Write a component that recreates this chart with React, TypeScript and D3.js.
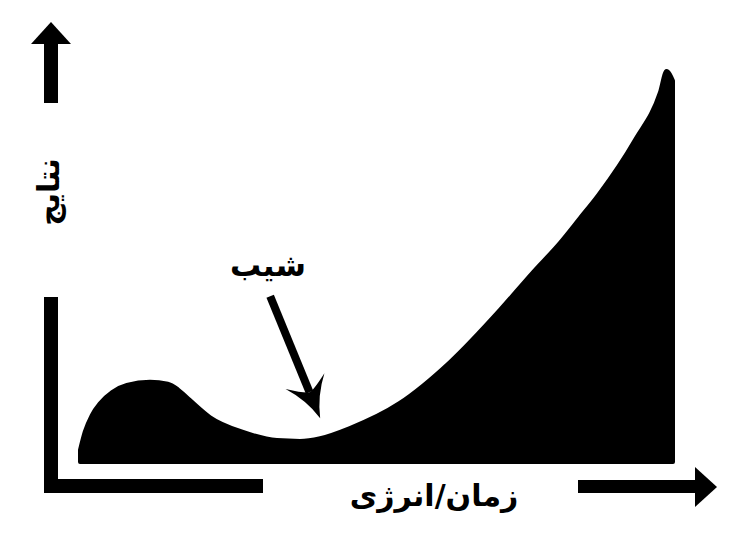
import React from 'react'
import * as d3 from 'd3'

// curve outline (x: time/energy, y: results), both 0..100
const curveX = [0, 0.8, 2.0, 3.4, 5.4, 7.9, 11.8, 14.8, 16.5, 18.5, 21.9, 27.5, 33.2, 37.1, 40.5, 45.5, 53.9, 62.4, 70.8, 76.4, 80.9, 84.3, 87.4, 93.6, 97.8, 98.9, 100]
const curveY = [3.1, 7.7, 12.0, 15.1, 17.9, 19.7, 20.5, 20.0, 18.6, 15.9, 11.5, 7.7, 5.6, 5.4, 6.1, 8.7, 15.1, 25.6, 38.9, 48.6, 56.0, 62.4, 68.3, 82.4, 94.5, 100, 97.5]

const xLabel = 'زمان/انرژی'
const yLabel = 'نتایج'
const slopeLabel = 'شیب'
// where the slope arrow points (data units)
const slopeAt = [40.5, 6.1]

const W = 740
const H = 540
const FONT = '"DejaVu Sans", sans-serif'

const App: React.FC = () => {
  const xScale = d3.scaleLinear().domain([0, 100]).range([80, 673])
  const yScale = d3.scaleLinear().domain([0, 100]).range([462, 71])

  const pts = curveX.map((x, i) => [x, curveY[i]] as [number, number])

  const area = d3
    .area<[number, number]>()
    .x((d) => xScale(d[0]))
    .y0(yScale(0))
    .y1((d) => yScale(d[1]))
    .curve(d3.curveMonotoneX)

  // slope arrow
  const tipX = xScale(slopeAt[0])
  const tipY = yScale(slopeAt[1]) - 20
  const startX = tipX - 50
  const startY = tipY - 122
  const len = Math.hypot(tipX - startX, tipY - startY)
  const ux = (tipX - startX) / len
  const uy = (tipY - startY) / len
  const nx = -uy
  const ny = ux
  const bx = tipX - 40 * ux
  const by = tipY - 40 * uy
  const inner = [tipX - 28 * ux, tipY - 28 * uy]
  const headPath = [
    `M${tipX},${tipY}`,
    `Q${tipX - 22 * ux + 6 * nx},${tipY - 22 * uy + 6 * ny} ${bx + 21 * nx},${by + 21 * ny}`,
    `Q${inner[0] + 4 * nx},${inner[1] + 4 * ny} ${inner[0]},${inner[1]}`,
    `Q${inner[0] - 4 * nx},${inner[1] - 4 * ny} ${bx - 21 * nx},${by - 21 * ny}`,
    `Q${tipX - 22 * ux - 6 * nx},${tipY - 22 * uy - 6 * ny} ${tipX},${tipY}`,
    'Z',
  ].join(' ')

  return (
    <svg width={W} height={H} style={{ display: 'block', margin: '-8px', background: '#fff' }}>
      {/* filled curve */}
      <path d={area(pts) ?? ''} fill="#000" stroke="#000" strokeWidth={4} strokeLinejoin="round" />

      {/* L-shaped axes */}
      <path d="M51,297 V486 H263" fill="none" stroke="#000" strokeWidth={14} strokeLinejoin="miter" />

      {/* y arrow */}
      <rect x={44} y={42} width={14} height={61} fill="#000" />
      <path d="M31,44 L71,44 L51,22 Z" fill="#000" />

      {/* x arrow */}
      <rect x={578} y={480} width={120} height={13} fill="#000" />
      <path d="M695,467 L695,507 L717,487 Z" fill="#000" />

      {/* axis labels */}
      <text x={434} y={506} textAnchor="middle" fontFamily={FONT} fontWeight="bold" fontSize={30} fill="#000">
        {xLabel}
      </text>
      <text
        transform="translate(59,192) rotate(-90)"
        textAnchor="middle"
        fontFamily={FONT}
        fontWeight="bold"
        fontSize={30}
        fill="#000"
      >
        {yLabel}
      </text>

      {/* slope annotation */}
      <text x={268} y={276} textAnchor="middle" fontFamily={FONT} fontWeight="bold" fontSize={31} fill="#000">
        {slopeLabel}
      </text>
      <line x1={startX} y1={startY} x2={inner[0]} y2={inner[1]} stroke="#000" strokeWidth={8} />
      <path d={headPath} fill="#000" />
    </svg>
  )
}

export default App
